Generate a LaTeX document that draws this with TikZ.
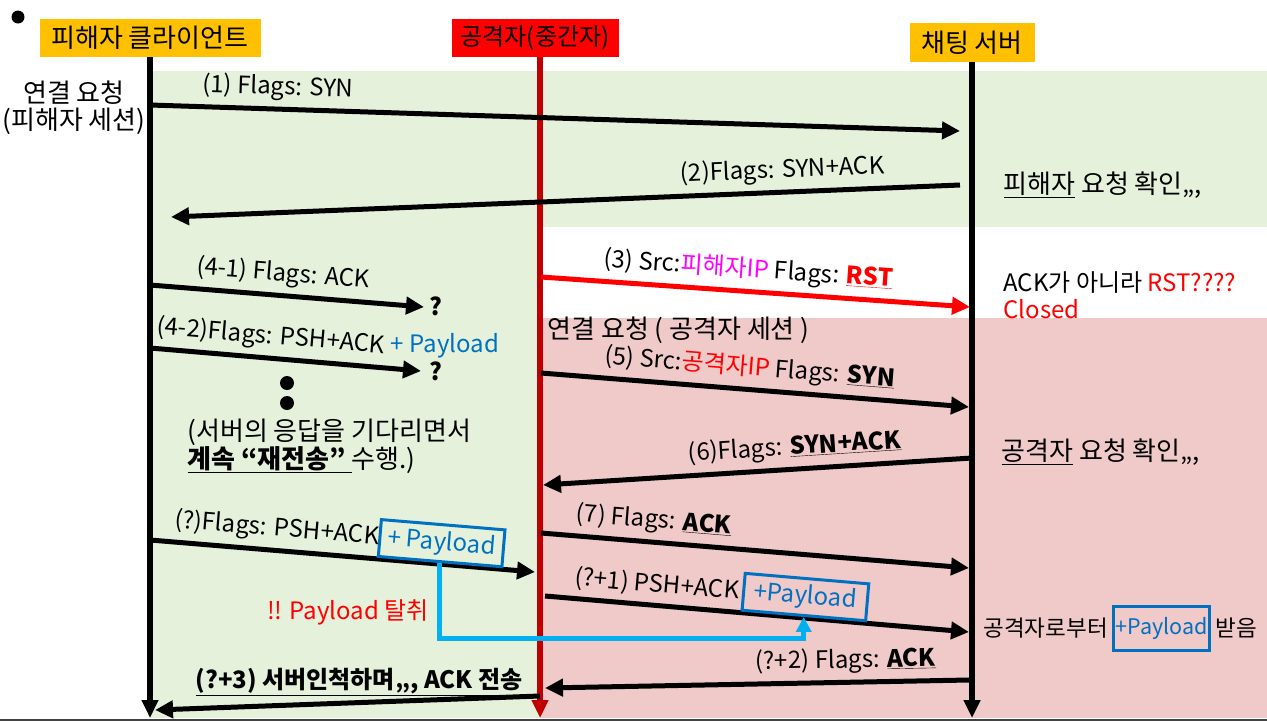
\documentclass[tikz,border=0pt]{standalone}
\usepackage{fontspec}
\setmainfont{Noto Sans CJK KR}
\usetikzlibrary{arrows.meta,positioning}
\definecolor{hdrorange}{HTML}{FFC000}
\definecolor{lifered}{HTML}{C00000}
\definecolor{bggreen}{HTML}{E5F1DB}
\definecolor{bgpink}{HTML}{F0C9C9}
\definecolor{paybl}{HTML}{0070C0}
\definecolor{stealcyan}{HTML}{00B0F0}
\definecolor{srcmag}{HTML}{FF00FF}

\begin{document}
\begin{tikzpicture}[x=1pt,y=-1pt,
  every node/.style={font=\fontsize{24}{27}\selectfont},
  kor/.style={font=\fontsize{26}{27}\selectfont},
  hdr/.style={minimum height=38pt,inner sep=0pt},
  life/.style={line width=6pt,-{Triangle[length=18pt,width=16pt]}},
  msg/.style={line width=5pt,-{Triangle[length=18pt,width=17pt]}},
  lbl/.style={sloped,above=5pt,inner sep=1pt},
  paybox/.style={draw=paybl,line width=3pt,text=paybl,inner sep=2pt,minimum width=124pt,minimum height=37pt},
  steal/.style={stealcyan,line width=5pt,-{Triangle[length=15pt,width=15pt]}}]
\useasboundingbox (0,0) rectangle (1267,721);
\fill[bggreen] (150,71) rectangle (1267,227);
\fill[bggreen] (150,227) rectangle (540,718);
\fill[bgpink] (540,318) rectangle (1267,718);
\draw[black!75,line width=2pt] (0,719.5) -- (1267,719.5);
\fill (18,17) circle (6.5pt);

\node[hdr,kor,fill=hdrorange,minimum width=221pt] (cli) at (150,38) {피해자 클라이언트};
\node[hdr,fill=red,minimum width=167pt,font=\fontsize{24}{26}\selectfont] (atk) at (535,38) {공격자(중간자)};
\node[hdr,kor,fill=hdrorange,minimum width=125pt,minimum height=39pt] (srv) at (972,42.5) {채팅 서버};
\coordinate (cliend) at (150,718);
\coordinate (atktop) at (540,57);
\coordinate (atkend) at (540,718);
\coordinate (srvend) at (972,718);
\draw[life] (cli.south) -- (cliend);
\draw[life,lifered] (atktop) -- (atkend);
\draw[life] (srv.south) -- (srvend);

\node[kor,align=center] (sess1) at (74,108) {연결 요청\\(피해자 세션)};

\coordinate (m1a) at (150,105); \coordinate (m1b) at (960,131);
\coordinate (m2a) at (960,185); \coordinate (m2b) at (171,217);
\coordinate (m3a) at (541,277); \coordinate (m3b) at (970,307);
\coordinate (m41a) at (150,285); \coordinate (m41b) at (424,307);
\coordinate (m42a) at (150,348); \coordinate (m42b) at (421,371);
\coordinate (m5a) at (541,373); \coordinate (m5b) at (969,407);
\coordinate (m6a) at (972,458); \coordinate (m6b) at (543,485);
\coordinate (mqa) at (150,540); \coordinate (mqb) at (535,572);
\coordinate (m7a) at (541,533); \coordinate (m7b) at (969,568);
\coordinate (mq1a) at (545,596); \coordinate (mq1b) at (969,632);
\coordinate (mq2a) at (969,680); \coordinate (mq2b) at (545,688);
\coordinate (mq3a) at (540,696); \coordinate (mq3b) at (155,710);

\draw[msg] (m1a) -- node[lbl,pos=.157] (l1) {(1) Flags: SYN} (m1b);
\draw[msg] (m2a) -- node[lbl,pos=.224] (l2) {(2)Flags: SYN+ACK} (m2b);
\draw[msg,red] (m3a) -- node[lbl,pos=.48,text=black] (l3) {(3) Src:{\color{srcmag}피해자IP} Flags: {\color{red}\underline{\textbf{RST}}}} (m3b);
\draw[msg] (m41a) -- node[lbl,pos=.48] (l41) {(4-1) Flags: ACK} (m41b);
\draw[msg] (m42a) -- node[lbl,pos=.44] (l42) {(4-2)Flags: PSH+ACK} (m42b);
\draw[msg] (m5a) -- node[lbl,pos=.484] (l5) {(5) Src:{\color{red}공격자IP} Flags: \underline{\textbf{SYN}}} (m5b);
\draw[msg] (m6a) -- node[lbl,pos=.41] (l6) {(6)Flags: \underline{\textbf{SYN+ACK}}} (m6b);
\draw[msg] (mqa) -- node[lbl,pos=.325] (lq) {(?)Flags: PSH+ACK} node[lbl,pos=.753,above=1pt,paybox] (pay1) {+ Payload} (mqb);
\draw[msg] (m7a) -- node[lbl,pos=.26] (l7) {(7) Flags: \underline{\textbf{ACK}}} (m7b);
\draw[msg] (mq1a) -- node[lbl,pos=.26] (lq1) {(?+1) PSH+ACK} node[lbl,pos=.61,above=1pt,paybox] (pay2) {+Payload} (mq1b);
\draw[msg] (mq2a) -- node[lbl,pos=.29] (lq2) {(?+2) Flags: \underline{\textbf{ACK}}} (mq2b);
\draw[msg] (mq3a) -- node[above=3pt,pos=.47,inner sep=1pt] (lq3) {\underline{\textbf{(?+3) 서버인척하며,,, ACK 전송}}} (mq3b);

\node[font=\fontsize{24}{27}\selectfont\bfseries] (q1) at (436,306) {?};
\node[font=\fontsize{24}{27}\selectfont\bfseries] (q2) at (436,371) {?};
\node[text=paybl] (pl42) at (445,346) {+ Payload};
\fill (287,383) circle (7pt);
\fill (287,403) circle (7pt);
\node[kor,anchor=west,align=left] (wait) at (184,446) {(서버의 응답을 기다리면서\\\underline{\textbf{계속 “재전송”}\ }수행.)};
\node[kor,anchor=west] (sess2) at (544,330) {연결 요청 ( 공격자 세션 )};

\node[kor,anchor=west] (chk1) at (1000,185) {\underline{피해자} 요청 확인,,,};
\node[anchor=west] (rst) at (1000,283) {ACK가 아니라 {\color{red}RST????}};
\node[anchor=west,text=red] (closed) at (1000,309) {Closed};
\node[kor,anchor=west] (chk2) at (998,452) {\underline{공격자} 요청 확인,,,};
\node[anchor=west,font=\fontsize{22.5}{26}\selectfont] (rcv1) at (980,628) {공격자로부터};
\node[right=1pt of rcv1,paybox,minimum width=95pt,minimum height=44pt,font=\fontsize{21.5}{24}\selectfont] (pay3) {+Payload};
\node[right=1pt of pay3,font=\fontsize{22.5}{26}\selectfont] (rcv2) {받음};

\node[text=red] (steal) at (348,612) {!! Payload 탈취};
\coordinate (turn) at (620,638);
\draw[steal] (pay1.south) |- (turn) -| (pay2.south);
\end{tikzpicture}
\end{document}
